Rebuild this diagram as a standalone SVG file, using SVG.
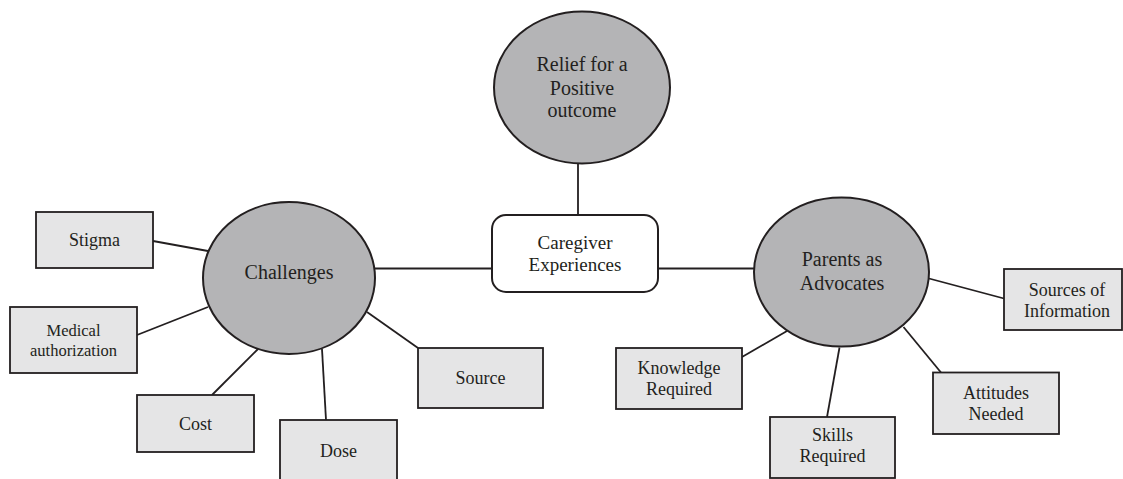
<svg xmlns="http://www.w3.org/2000/svg" width="1123" height="479" viewBox="0 0 1123 479">
<style>
.ell{fill:#b4b4b6;stroke:#231f20;stroke-width:2}
.box{fill:#e5e5e6;stroke:#231f20;stroke-width:1.8}
.cbox{fill:#ffffff;stroke:#231f20;stroke-width:2}
.con line{stroke:#231f20;stroke-width:1.8}
text{font-family:"Liberation Serif","Times New Roman",serif;fill:#231f20;text-anchor:middle}
.big{font-size:20px}
.mid{font-size:19px}
.sm{font-size:18px}
</style>
<rect width="1123" height="479" fill="#ffffff"/>
<g id="connectors" class="con">
<line x1="578" y1="163" x2="578" y2="215"/>
<line x1="375" y1="268.5" x2="492" y2="268.5"/>
<line x1="658" y1="268.5" x2="754" y2="268.5"/>
<line x1="153" y1="241" x2="208" y2="251"/>
<line x1="137" y1="335" x2="208" y2="307"/>
<line x1="212" y1="395" x2="258" y2="349"/>
<line x1="322" y1="349" x2="326" y2="420"/>
<line x1="367" y1="312" x2="418" y2="348"/>
<line x1="929" y1="278.5" x2="1004" y2="298.5"/>
<line x1="742" y1="357" x2="787" y2="331"/>
<line x1="839.5" y1="347.5" x2="827" y2="417"/>
<line x1="903.5" y1="327" x2="941" y2="372.5"/>
</g>
<g id="relief">
<ellipse class="ell" cx="582" cy="87.5" rx="88" ry="76"/>
<text class="big" x="582" y="71">Relief for a</text>
<text class="big" x="582" y="95">Positive</text>
<text class="big" x="582" y="117">outcome</text>
</g>
<g id="caregiver">
<rect class="cbox" x="492" y="215" width="166" height="77" rx="14"/>
<text class="mid" x="575" y="249">Caregiver</text>
<text class="mid" x="575" y="271">Experiences</text>
</g>
<g id="challenges">
<ellipse class="ell" cx="289" cy="278" rx="86" ry="76"/>
<text class="big" x="289" y="279">Challenges</text>
</g>
<g id="parents">
<ellipse class="ell" cx="841.5" cy="272" rx="87.5" ry="74.5"/>
<text class="big" x="842" y="266">Parents as</text>
<text class="big" x="842" y="290">Advocates</text>
</g>
<g id="stigma">
<rect class="box" x="36" y="212" width="117" height="56"/>
<text class="sm" x="94.5" y="246">Stigma</text>
</g>
<g id="medical">
<rect class="box" x="10" y="307" width="127" height="66"/>
<text class="sm" x="73.5" y="336" style="font-size:16.5px">Medical</text>
<text class="sm" x="73.5" y="356" style="font-size:16.5px">authorization</text>
</g>
<g id="cost">
<rect class="box" x="137" y="395" width="117" height="57"/>
<text class="sm" x="195.5" y="430">Cost</text>
</g>
<g id="dose">
<rect class="box" x="280" y="420" width="117" height="70"/>
<text class="sm" x="338.5" y="457">Dose</text>
</g>
<g id="source">
<rect class="box" x="418" y="348" width="125" height="60"/>
<text class="sm" x="480.5" y="384">Source</text>
</g>
<g id="sources-info">
<rect class="box" x="1004" y="269" width="118" height="61"/>
<text class="sm" x="1067" y="296">Sources of</text>
<text class="sm" x="1067" y="317">Information</text>
</g>
<g id="knowledge">
<rect class="box" x="616" y="348" width="126" height="61"/>
<text class="sm" x="679" y="374">Knowledge</text>
<text class="sm" x="679" y="395">Required</text>
</g>
<g id="skills">
<rect class="box" x="770" y="417" width="125" height="61"/>
<text class="sm" x="832.5" y="441">Skills</text>
<text class="sm" x="832.5" y="462">Required</text>
</g>
<g id="attitudes">
<rect class="box" x="933" y="372.5" width="126" height="61.5"/>
<text class="sm" x="996" y="399">Attitudes</text>
<text class="sm" x="996" y="419.5">Needed</text>
</g>
</svg>
